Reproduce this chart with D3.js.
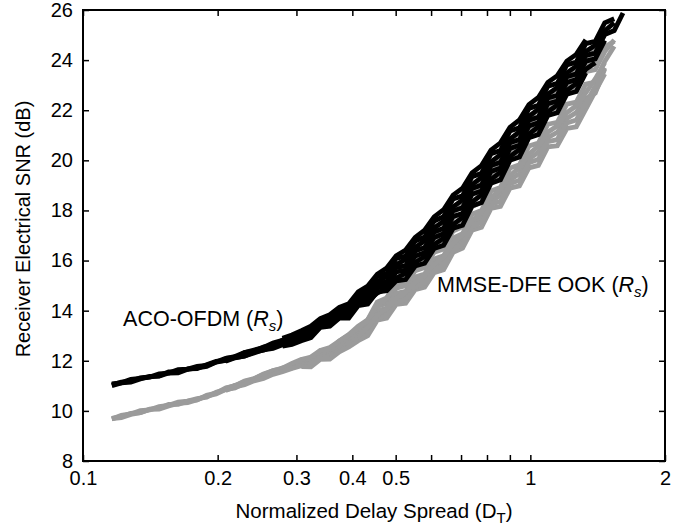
<!DOCTYPE html>
<html><head><meta charset="utf-8">
<script src="https://cdn.jsdelivr.net/npm/d3@7"></script>
<style>
body{margin:0;background:#fff}
svg text{font-family:"Liberation Sans",Arial,Helvetica,sans-serif;fill:#000}
</style>
</head><body>
<svg id="chart" width="689" height="527"></svg>
<script>
// ---- data ----
const dT = [0.116,0.1218,0.1279,0.1343,0.141,0.148,0.1554,0.1632,0.1714,0.18,
  0.189,0.1984,0.2083,0.2187,0.2297,0.2412,0.2532,0.2659,0.2792,0.2931,
  0.3078,0.3232,0.3393,0.3563,0.3741,0.3928,0.4124,0.4331,0.4547,0.4775,
  0.5013,0.5264,0.5527,0.5804,0.6094,0.6399,0.6719,0.7055,0.7407,0.7778,
  0.8167,0.8575,0.9004,0.9454,0.9927,1.0423,1.0944,1.1491,1.2066,1.2669,
  1.3303,1.3968,1.4666,1.54,1.611];

const xTicks = [0.1,0.2,0.3,0.4,0.5,0.6,0.7,0.8,0.9,1,2];
const xTickLabels = ["0.1","0.2","0.3","0.4","0.5","","","","","1","2"];
const yTicks = [8,10,12,14,16,18,20,22,24,26];

// ACO-OFDM curves (black); start index of each curve into dT
const acoStart = [0,0,0,12,12,18,18];
const aco1 = [11.04,11.15,11.18,11.32,11.36,11.40,11.56,11.57,11.68,11.69,
  11.84,11.98,12.02,12.17,12.22,12.40,12.48,12.65,12.70,12.87,
  13.04,13.11,13.46,13.52,13.87,13.88,14.43,14.51,15.06,15.15,
  15.72,15.80,16.38,16.52,17.14,17.29,17.99,18.11,18.88,19.01,
  19.79,19.92,20.70,20.83,21.60,21.73,22.49,22.60,23.34,23.45,
  24.19,24.28,25.02,25.18,25.88];
const aco2 = [11.08,11.12,11.26,11.30,11.35,11.48,11.51,11.65,11.67,11.78,
  11.82,11.95,12.10,12.13,12.33,12.39,12.55,12.63,12.82,12.90,
  13.07,13.23,13.51,13.65,13.93,14.05,14.50,14.71,15.15,15.37,
  15.84,16.05,16.52,16.79,17.30,17.57,18.14,18.42,19.03,19.32,
  19.94,20.23,20.85,21.14,21.75,22.04,22.64,22.91,23.49,23.76,
  24.34,24.59,25.17,25.49];
const aco3 = [11.01,11.12,11.15,11.27,11.38,11.39,11.51,11.52,11.66,11.72,
  11.77,11.95,12.01,12.13,12.18,12.35,12.42,12.57,12.67,12.75,
  12.97,13.03,13.37,13.43,13.77,13.77,14.31,14.38,14.91,14.99,
  15.55,15.62,16.18,16.31,16.92,17.07,17.76,17.88,18.65,18.78,
  19.56,19.69,20.47,20.60,21.37,21.50,22.26,22.37,23.11,23.22,
  23.96,24.05,24.79];
const aco4 = [12.10,12.17,12.33,12.43,12.53,12.71,12.82,12.99,
  13.17,13.26,13.63,13.71,14.07,14.11,14.69,14.79,15.36,15.48,
  16.08,16.18,16.78,16.94,17.58,17.75,18.46,18.58,19.35,19.48,
  20.26,20.39,21.17,21.30,22.07,22.20,22.96,23.07,23.81,23.92,
  24.66,24.75,25.49,25.65];
const aco5 = [11.98,12.12,12.19,12.31,12.44,12.49,12.64,12.72,
  12.87,13.08,13.35,13.47,13.73,13.81,14.23,14.40,14.70,14.88,
  15.31,15.49,15.92,16.16,16.64,16.89,17.44,17.72,18.33,18.62,
  19.24,19.53,20.15,20.44,21.05,21.34,21.94,22.21,22.79,23.06,
  23.64,23.89];
const aco6 = [12.90,13.03,
  13.20,13.38,13.68,13.84,14.13,14.28,14.75,14.98,15.45,15.70,
  16.19,16.42,16.92,17.21,17.74,18.03,18.61,18.89,19.50,19.79,
  20.41,20.70,21.32,21.61,22.22,22.51,23.11,23.38,23.96,24.23,
  24.81];
const aco7 = [12.58,12.65,
  12.80,12.92,13.33,13.38,13.70,13.70,14.20,14.26,14.75,14.80,
  15.19,15.24,15.78,15.89,16.48,16.61,17.29,17.41,18.18,18.31,
  19.09,19.22,20.00,20.13,20.90,21.03,21.79,21.90,22.64,22.75,
  23.49];

// MMSE-DFE OOK curves (grey)
const ookStart = [0,0,0,12,12,20,20,26,26];
const ook1 = [9.70,9.77,9.90,9.93,10.07,10.11,10.26,10.26,10.39,10.49,
  10.55,10.74,10.85,11.02,11.09,11.28,11.45,11.52,11.71,11.79,
  11.99,12.01,12.34,12.38,12.71,12.95,13.25,13.50,14.17,14.30,
  14.90,15.00,15.59,15.72,16.33,16.46,17.18,17.35,18.16,18.33,
  19.13,19.29,20.09,20.23,21.00,21.13,21.89,21.98,22.72,22.81,
  23.54,23.62,24.34,24.80];
const ook2 = [9.68,9.82,9.88,10.01,10.04,10.17,10.22,10.35,10.39,10.44,
  10.62,10.71,10.91,11.00,11.17,11.26,11.45,11.61,11.69,11.86,
  11.98,12.08,12.34,12.46,12.71,12.98,13.28,13.63,14.19,14.46,
  14.96,15.20,15.70,15.97,16.49,16.76,17.36,17.69,18.34,18.67,
  19.31,19.63,20.27,20.57,21.18,21.47,22.07,22.32,22.90,23.15,
  23.72,23.96,24.52,24.75];
const ook3 = [9.69,9.73,9.86,9.93,10.06,10.07,10.20,10.30,10.33,10.45,
  10.59,10.68,10.85,10.92,11.11,11.26,11.33,11.50,11.65,11.71,
  11.92,11.93,12.25,12.28,12.59,12.82,13.10,13.34,13.99,14.10,
  14.69,14.77,15.34,15.46,16.06,16.19,16.90,17.07,17.85,18.00,
  18.78,18.92,19.69,19.82,20.57,20.69,21.44,21.52,22.24,22.32,
  23.04,23.12,23.95,24.55];
const ook4 = [10.90,11.01,11.19,11.29,11.47,11.60,11.71,11.89,
  12.06,12.08,12.41,12.45,12.79,13.05,13.38,13.64,14.34,14.51,
  15.15,15.29,15.93,16.11,16.77,16.96,17.72,17.89,18.70,18.87,
  19.67,19.83,20.63,20.77,21.54,21.67,22.43,22.52,23.26,23.35,
  24.08,24.16,24.70];
const ook5 = [10.81,10.96,11.05,11.20,11.29,11.46,11.56,11.69,
  11.80,11.88,12.11,12.21,12.44,12.68,12.92,13.23,13.74,13.96,
  14.41,14.59,15.03,15.26,15.73,15.96,16.53,16.86,17.44,17.74,
  18.35,18.61,19.21,19.47,20.05,20.32,20.91,21.12,21.67,21.91,
  22.46,22.68,23.65];
const ook6 = [12.05,12.15,12.41,12.53,12.79,13.02,13.30,13.62,14.21,14.50,
  15.06,15.34,16.03,16.36,16.93,17.26,17.90,18.23,18.88,19.21,
  19.85,20.17,20.81,21.11,21.72,22.01,22.61,22.86,23.44,23.69,
  24.26,24.50];
const ook7 = [11.77,11.76,12.06,12.07,12.36,12.55,12.80,13.00,13.62,13.70,
  14.25,14.30,14.84,14.94,15.52,15.63,16.33,16.50,17.21,17.33,
  18.08,18.16,18.89,18.98,19.70,19.80,20.54,20.58,21.27,21.34,
  22.04,22.75,23.45];
const ook8 = [12.85,13.10,13.70,13.82,14.35,14.44,14.96,15.09,15.64,15.79,
  16.45,16.66,17.35,17.52,18.24,18.37,19.07,19.21,19.90,20.04,
  20.75,20.83,21.49,21.61,22.27,22.95,23.70];
const ook9 = [12.98,13.33,13.82,14.08,14.50,14.73,15.14,15.41,15.85,16.13,
  16.66,17.03,17.59,17.93,18.51,18.83,19.39,19.71,20.25,20.57,
  21.12,21.38,21.90,22.18,22.69,23.25,23.90];

const acoCurves = [aco1,aco2,aco3,aco4,aco5,aco6,aco7];
const ookCurves = [ook1,ook2,ook3,ook4,ook5,ook6,ook7,ook8,ook9];

// annotation anchors in data units
const labelAco = {d:0.1229, snr:13.39};
const labelOok = {d:0.6185, snr:14.75};

// ---- drawing ----
const svg = d3.select("#chart");
const L=83, R=665, T=10, B=461;
const x = d3.scaleLog().domain([0.1,2]).range([L,R]);
const y = d3.scaleLinear().domain([8,26]).range([B,T]);

function toPts(vals, start){ return vals.map((v,j)=>[dT[start+j], v]); }
const line = d3.line().x(d=>x(d[0])).y(d=>y(d[1]));

const gOok = svg.append("g");
ookCurves.forEach((c,k)=>{
  gOok.append("path").attr("d", line(toPts(c, ookStart[k])))
    .attr("fill","none").attr("stroke","#9b9b9b").attr("stroke-width",4.8)
    .attr("stroke-linejoin","miter");
});
const gAco = svg.append("g");
acoCurves.forEach((c,k)=>{
  gAco.append("path").attr("d", line(toPts(c, acoStart[k])))
    .attr("fill","none").attr("stroke","#000").attr("stroke-width",4.8)
    .attr("stroke-linejoin","miter");
});

// axes
function styleAxis(g){
  g.select(".domain").remove();
  g.selectAll("line").attr("stroke","#000").attr("stroke-width",1.5);
  g.selectAll("text").style("font-size","20px");
  g.attr("font-family",null).attr("font-size",null);
}
svg.append("g").attr("transform",`translate(0,${B})`)
  .call(d3.axisBottom(x).tickValues(xTicks).tickFormat((d,i)=>xTickLabels[i])
    .tickSizeInner(-6).tickSizeOuter(0).tickPadding(10))
  .call(styleAxis);
svg.append("g").attr("transform",`translate(0,${T})`)
  .call(d3.axisTop(x).tickValues(xTicks).tickFormat("")
    .tickSizeInner(-6).tickSizeOuter(0))
  .call(styleAxis);
svg.append("g").attr("transform",`translate(${L},0)`)
  .call(d3.axisLeft(y).tickValues(yTicks).tickFormat(d3.format("d"))
    .tickSizeInner(-6).tickSizeOuter(0).tickPadding(10))
  .call(styleAxis);
svg.append("g").attr("transform",`translate(${R},0)`)
  .call(d3.axisRight(y).tickValues(yTicks).tickFormat("")
    .tickSizeInner(-6).tickSizeOuter(0))
  .call(styleAxis);

svg.append("rect").attr("x",L).attr("y",T).attr("width",R-L).attr("height",B-T)
  .attr("fill","none").attr("stroke","#000").attr("stroke-width",2);

// axis titles
const xt = svg.append("text").attr("x",(L+R)/2).attr("y",518)
  .attr("text-anchor","middle").style("font-size","20.5px");
xt.append("tspan").text("Normalized Delay Spread (D");
xt.append("tspan").attr("dy",5).style("font-size","15px").text("T");
xt.append("tspan").attr("dy",-5).text(")");

svg.append("text").attr("transform","translate(30,229) rotate(-90)")
  .attr("text-anchor","middle").style("font-size","20px")
  .text("Receiver Electrical SNR (dB)");

// annotations
function label(pos, main){
  const t = svg.append("text").attr("x",x(pos.d)).attr("y",y(pos.snr))
    .style("font-size","21.5px");
  t.append("tspan").text(main + " (");
  t.append("tspan").style("font-style","italic").text("R");
  t.append("tspan").attr("dy",5).style("font-style","italic").style("font-size","15px").text("s");
  t.append("tspan").attr("dy",-5).text(")");
}
label(labelAco, "ACO-OFDM");
label(labelOok, "MMSE-DFE OOK");
</script>
</body></html>
